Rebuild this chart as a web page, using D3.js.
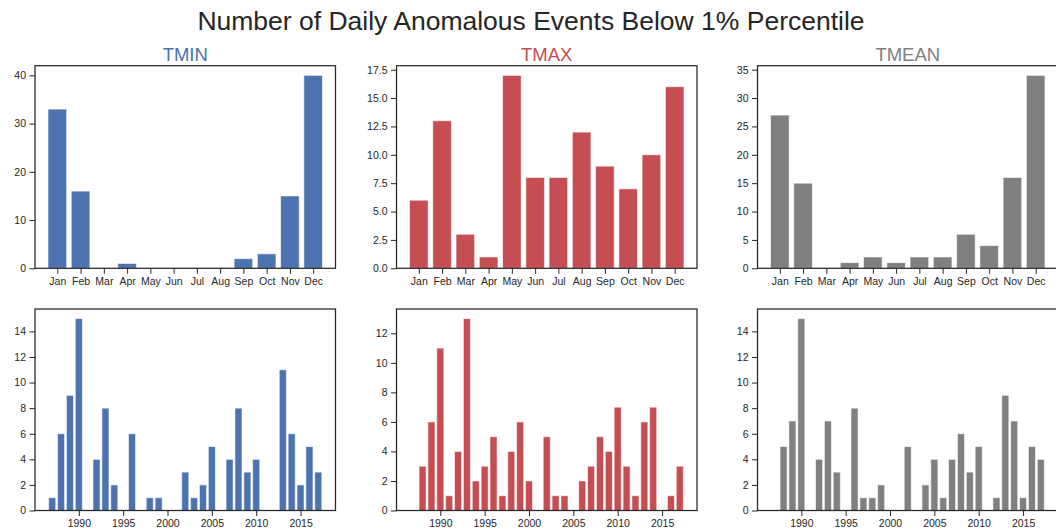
<!DOCTYPE html>
<html>
<head>
<meta charset="utf-8">
<script src="https://cdn.jsdelivr.net/npm/d3@7"></script>
<style>
  html, body { margin: 0; padding: 0; background: #fff; overflow: hidden; }
  svg { display: block; font-family: "Liberation Sans", Arial, sans-serif; }
</style>
</head>
<body>
<svg id="chart" width="1056" height="529"></svg>
<script>
// ---------- data ----------
const mainTitle = "Number of Daily Anomalous Events Below 1% Percentile";
const seriesNames = ["TMIN", "TMAX", "TMEAN"];
const seriesColors = ["#4C72B0", "#C44E52", "#808080"];

const months = ["Jan", "Feb", "Mar", "Apr", "May", "Jun", "Jul", "Aug", "Sep", "Oct", "Nov", "Dec"];
const tminMonthly  = [33, 16, 0, 1, 0, 0, 0, 0, 2, 3, 15, 40];
const tmaxMonthly  = [6, 13, 3, 1, 17, 8, 8, 12, 9, 7, 10, 16];
const tmeanMonthly = [27, 15, 0, 1, 2, 1, 2, 2, 6, 4, 16, 34];

const years = [1987, 1988, 1989, 1990, 1991, 1992, 1993, 1994, 1995, 1996,
               1997, 1998, 1999, 2000, 2001, 2002, 2003, 2004, 2005, 2006,
               2007, 2008, 2009, 2010, 2011, 2012, 2013, 2014, 2015, 2016, 2017];
const tminYearly  = [1, 6, 9, 15, 0, 4, 8, 2, 0, 6,
                     0, 1, 1, 0, 0, 3, 1, 2, 5, 0,
                     4, 8, 3, 4, 0, 0, 11, 6, 2, 5, 3];
const tmaxYearly  = [0, 3, 6, 11, 1, 4, 13, 2, 3, 5,
                     1, 4, 6, 2, 0, 5, 1, 1, 0, 2,
                     3, 5, 4, 7, 3, 1, 6, 7, 0, 1, 3];
const tmeanYearly = [0, 5, 7, 15, 0, 4, 7, 3, 0, 8,
                     1, 1, 2, 0, 0, 5, 0, 2, 4, 1,
                     4, 6, 3, 5, 0, 1, 9, 7, 1, 5, 4];

const monthlyTicks = [[0, 10, 20, 30, 40], [0, 2.5, 5, 7.5, 10, 12.5, 15, 17.5], [0, 5, 10, 15, 20, 25, 30, 35]];
const monthlyTickFmt = [d3.format("d"), d3.format(".1f"), d3.format("d")];
const yearlyTicks = [[0, 2, 4, 6, 8, 10, 12, 14], [0, 2, 4, 6, 8, 10, 12], [0, 2, 4, 6, 8, 10, 12, 14]];
const yearTickLabels = [1990, 1995, 2000, 2005, 2010, 2015];

const monthlyData = [tminMonthly, tmaxMonthly, tmeanMonthly];
const yearlyData = [tminYearly, tmaxYearly, tmeanYearly];

// ---------- layout ----------
const svg = d3.select("#chart");
const panelLeft = [35, 396.5, 757.5];
const panelW = 300.5;
const rows = [{ top: 65.7, bottom: 268.3 }, { top: 309, bottom: 510.5 }];
const textColor = "#262626";
const spineColor = "#262626";
const barW = 0.8;

svg.append("text")
  .attr("x", 531).attr("y", 29.5)
  .attr("text-anchor", "middle")
  .attr("font-size", 26.5)
  .attr("fill", textColor)
  .text(mainTitle);

function styleAxis(g) {
  g.selectAll("path.domain").remove();
  g.selectAll(".tick line").attr("stroke", spineColor).attr("stroke-width", 1);
  g.selectAll(".tick text").attr("fill", textColor).attr("font-size", 10.5)
    .attr("font-family", "'Liberation Sans', Arial, sans-serif");
}

function drawPanel(i, row, cats, values, xDomain, xTickVals, xFmt, yTicks, yFmt, title) {
  const x0 = panelLeft[i], x1 = x0 + panelW;
  const r = rows[row];
  const maxV = d3.max(values);
  const x = d3.scaleLinear().domain(xDomain).range([x0, x1]);
  const y = d3.scaleLinear().domain([0, maxV * 1.05]).range([r.bottom, r.top]);
  const g = svg.append("g");

  g.selectAll("rect.bar").data(values).enter().append("rect")
    .attr("class", "bar")
    .attr("x", (d, j) => x(cats[j] - barW / 2))
    .attr("width", (d, j) => x(cats[j] + barW / 2) - x(cats[j] - barW / 2))
    .attr("y", d => y(d))
    .attr("height", d => y(0) - y(d))
    .attr("fill", seriesColors[i])
    .attr("stroke", "#ffffff")
    .attr("stroke-opacity", 0.6)
    .attr("stroke-width", 1);

  const xa = g.append("g").attr("transform", `translate(0,${r.bottom})`)
    .call(d3.axisBottom(x).tickValues(xTickVals).tickFormat(xFmt).tickSizeOuter(0).tickSize(5.5).tickPadding(3.5));
  styleAxis(xa);
  const ya = g.append("g").attr("transform", `translate(${x0},0)`)
    .call(d3.axisLeft(y).tickValues(yTicks).tickFormat(yFmt).tickSizeOuter(0).tickSize(5.5).tickPadding(3.5));
  styleAxis(ya);

  g.append("rect")
    .attr("x", x0).attr("y", r.top)
    .attr("width", panelW).attr("height", r.bottom - r.top)
    .attr("fill", "none").attr("stroke", spineColor).attr("stroke-width", 1.25);

  if (title) {
    svg.append("text")
      .attr("x", x0 + panelW / 2).attr("y", r.top - 5)
      .attr("text-anchor", "middle")
      .attr("font-size", 18.5)
      .attr("fill", seriesColors[i])
      .text(title);
  }
}

const monthIdx = months.map((m, j) => j);
for (let i = 0; i < 3; i++) {
  drawPanel(i, 0, monthIdx, monthlyData[i], [-0.96, 11.96], monthIdx, d => months[d],
            monthlyTicks[i], monthlyTickFmt[i], seriesNames[i]);
  drawPanel(i, 1, years, yearlyData[i], [1985.06, 2018.94], yearTickLabels, d3.format("d"),
            yearlyTicks[i], d3.format("d"), null);
}
</script>
</body>
</html>
